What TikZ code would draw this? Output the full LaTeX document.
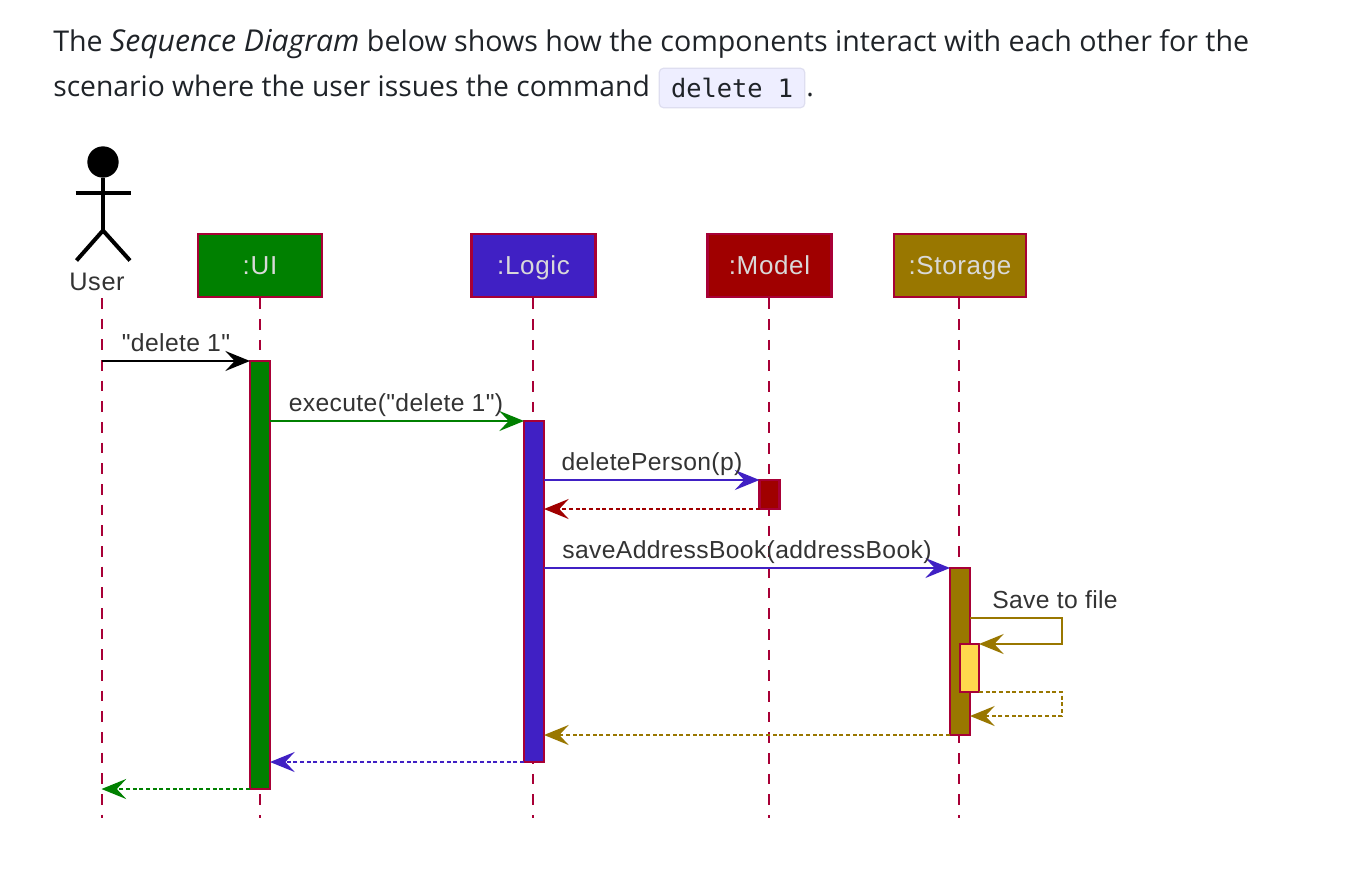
\documentclass[tikz,border=0pt]{standalone}
\usepackage{fontspec}
\setmainfont{Open Sans}
\newfontfamily\umlfont[LetterSpace=2.5]{Liberation Sans}
\newfontfamily\msgfont[LetterSpace=1.5]{Liberation Sans}
\newfontfamily\codefont{DejaVu Sans Mono}
\usetikzlibrary{arrows.meta}
\definecolor{crim}{HTML}{A80036}
\definecolor{cgreen}{HTML}{008000}
\definecolor{cblue}{HTML}{4020C4}
\definecolor{cred}{HTML}{A00000}
\definecolor{cgold}{HTML}{997700}
\definecolor{cyell}{HTML}{FFD84D}
\definecolor{chip}{HTML}{EEEEFF}
\definecolor{chipb}{HTML}{DEDEF0}
\definecolor{prose}{HTML}{1F2328}
\definecolor{umltext}{HTML}{333333}
\tikzset{
  x=0.75pt,y=-0.75pt,
  prosetext/.style={anchor=base west,inner sep=0pt,text=prose,font=\fontsize{21.2}{24}\selectfont},
  head/.style={draw=crim,line width=2.2pt,minimum height=47.2pt,inner sep=0pt,text=white!85!black,text height=16pt,text depth=1.75pt,font=\umlfont\fontsize{19.5}{24}\selectfont},
  bar/.style={draw=crim,line width=1.6pt,minimum width=15pt,inner sep=0pt,outer sep=0pt},
  lifeline/.style={crim,line width=1.5pt,dash pattern=on 8pt off 7.5pt},
  msgtext/.style={anchor=base,inner sep=0pt,text=umltext,font=\msgfont\fontsize{18.5}{22}\selectfont},
  arr/.style={-{Stealth[length=18.5pt,width=15pt,inset=7pt]},line width=1.5pt},
  ret/.style={arr,dash pattern=on 3pt off 2pt},
  stick/.style={line width=3pt,black}
}
\begin{document}
\begin{tikzpicture}
\useasboundingbox (0,0) rectangle (1370,884);
\fill[white] (0,0) rectangle (1370,884);
% prose
\node[prosetext] (line1) at (53,52) {\fontsize{21.45}{24}\selectfont The {\fontsize{22.6}{24}\selectfont\textit{Sequence Diagram}} below shows how the components interact with each other for the};
\node[prosetext] (line2) at (53,97) {scenario where the user issues the command};
\node[draw=chipb,fill=chip,rounded corners=3pt,line width=0.9pt,minimum width=109pt,minimum height=29.5pt,inner sep=0pt] (chipbox) at (732,88) {};
\node[inner sep=0pt,text=prose,font=\codefont\fontsize{19}{24}\selectfont] (code) at (732,88) {delete 1};
\node[prosetext] (dot) at (806,97) {.};
% actor
\node[circle,fill=black,minimum size=23.5pt,inner sep=0pt] (ahead) at (103,162) {};
\coordinate (acrotch) at (103,230.5);
\coordinate (aleft) at (75.5,193);
\coordinate (aright) at (131,193);
\coordinate (lfoot) at (76.5,260.5);
\coordinate (rfoot) at (130,260.5);
\draw[stick] (ahead) -- (acrotch);
\draw[stick] (aleft) -- (aright);
\draw[stick] (lfoot) -- (acrotch) -- (rfoot);
\node[anchor=base,inner sep=0pt,text=umltext,font=\umlfont\fontsize{19}{24}\selectfont] (user) at (97,291) {User};
% lifelines anchors
\coordinate (userTop) at (101.5,298);
\coordinate (userEnd) at (101.5,818);
\node[head,fill=cgreen,minimum width=93pt] (ui) at (260,265.5) {:UI};
\node[head,fill=cblue,minimum width=93pt] (logic) at (533.5,265.5) {:Logic};
\node[head,fill=cred,minimum width=93pt] (model) at (769.5,265.5) {:Model};
\node[head,fill=cgold,minimum width=99pt] (storage) at (960,265.5) {:Storage};
\coordinate (uiEnd) at (260,818);
\coordinate (logicEnd) at (533,818);
\coordinate (modelEnd) at (769,818);
\coordinate (storageEnd) at (959,818);
\draw[lifeline] (userTop) -- (userEnd);
\draw[lifeline] (ui.south -| uiEnd) -- (uiEnd);
\draw[lifeline] (logic.south -| logicEnd) -- (logicEnd);
\draw[lifeline] (model.south -| modelEnd) -- (modelEnd);
\draw[lifeline] (storage.south -| storageEnd) -- (storageEnd);
% bars
\node[bar,fill=cgreen,minimum height=321pt] (uibar) at (260,575) {};
\node[bar,fill=cblue,minimum height=255.75pt] (logicbar) at (534,591.5) {};
\node[bar,fill=cred,minimum height=21.75pt] (modelbar) at (769.5,494.5) {};
\node[bar,fill=cgold,minimum height=125.25pt] (storagebar) at (960,651.5) {};
\node[bar,fill=cyell,minimum width=14.25pt,minimum height=36pt] (selfbar) at (969.5,668) {};
% message end points
\coordinate (selfA) at (1062,618);
\coordinate (selfD) at (1062,716);
% messages
\draw[arr,black] (uibar.north west -| userEnd) -- (uibar.north west);
\node[msgtext] (m1) at (176,351.5) {"delete 1"};
\draw[arr,cgreen] (uibar.east |- logicbar.north) -- (logicbar.north west);
\node[msgtext] (m2) at (396,411.5) {execute("delete 1")};
\draw[arr,cblue] (logicbar.east |- modelbar.north) -- (modelbar.north west);
\node[msgtext] (m3) at (652,470) {deletePerson(p)};
\draw[ret,cred] (modelbar.south west) -- (logicbar.east |- modelbar.south);
\draw[arr,cblue] (logicbar.east |- storagebar.north) -- (storagebar.north west);
\node[msgtext] (m4) at (747,558.5) {saveAddressBook(addressBook)};
\draw[arr,cgold] (storagebar.east |- selfA) -- (selfA) -- (selfA |- selfbar.north) -- (selfbar.north east);
\node[msgtext] (m5) at (1055,608.5) {Save to file};
\draw[ret,cgold] (selfbar.south east) -- (selfA |- selfbar.south) -- (selfD) -- (storagebar.east |- selfD);
\draw[ret,cgold] (storagebar.south west) -- (logicbar.east |- storagebar.south);
\draw[ret,cblue] (logicbar.south west) -- (uibar.east |- logicbar.south);
\draw[ret,cgreen] (uibar.south west) -- (uibar.south west -| userEnd);
\end{tikzpicture}
\end{document}
